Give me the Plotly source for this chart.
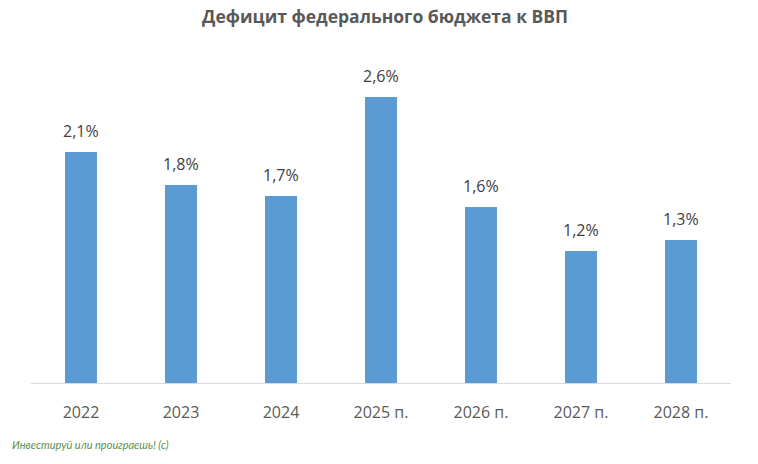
import plotly.graph_objects as go

categories = ["2022", "2023", "2024", "2025 п.", "2026 п.", "2027 п.", "2028 п."]
values = [2.1, 1.8, 1.7, 2.6, 1.6, 1.2, 1.3]
labels = ["2,1%", "1,8%", "1,7%", "2,6%", "1,6%", "1,2%", "1,3%"]

fig = go.Figure(go.Bar(
    x=categories, y=values,
    marker=dict(color="#5B9BD5", line=dict(width=0)),
    width=0.32, hoverinfo="x+y",
))

for i, (v, t) in enumerate(zip(values, labels)):
    fig.add_annotation(x=i, y=v, text=t, showarrow=False, yanchor="middle", yshift=21,
                       font=dict(family="Open Sans", size=16, color="#404040"))

fig.update_layout(
    width=758, height=464,
    margin=dict(l=31, r=27, t=53, b=81, autoexpand=False),
    paper_bgcolor="white", plot_bgcolor="white",
    title=dict(text="<b>Дефицит федерального бюджета к ВВП</b>", x=0.508, xanchor="center",
               y=1 - 17 / 464, yanchor="middle",
               font=dict(family="Open Sans", size=17.5, color="#595959")),
    xaxis=dict(type="category", range=[-0.5, len(categories) - 0.5],
               showline=True, linecolor="#D9D9D9", linewidth=1, ticks="",
               tickfont=dict(family="Open Sans", size=16, color="#595959"),
               ticklabelstandoff=15, showgrid=False),
    yaxis=dict(range=[0, 3.0], visible=False, showgrid=False, zeroline=False),
    showlegend=False,
)
fig.add_annotation(text="<i>Инвестируй или проиграешь! (с)</i>", xref="paper", yref="paper",
                   x=-21 / 700, y=-(444 - 383) / 330, xanchor="left", yanchor="middle", showarrow=False,
                   font=dict(family="Lato", size=11, color="#5B8F4F"))

fig.write_html("out.html", config={"displayModeBar": False},
               post_script="document.body.style.margin='0px';")
